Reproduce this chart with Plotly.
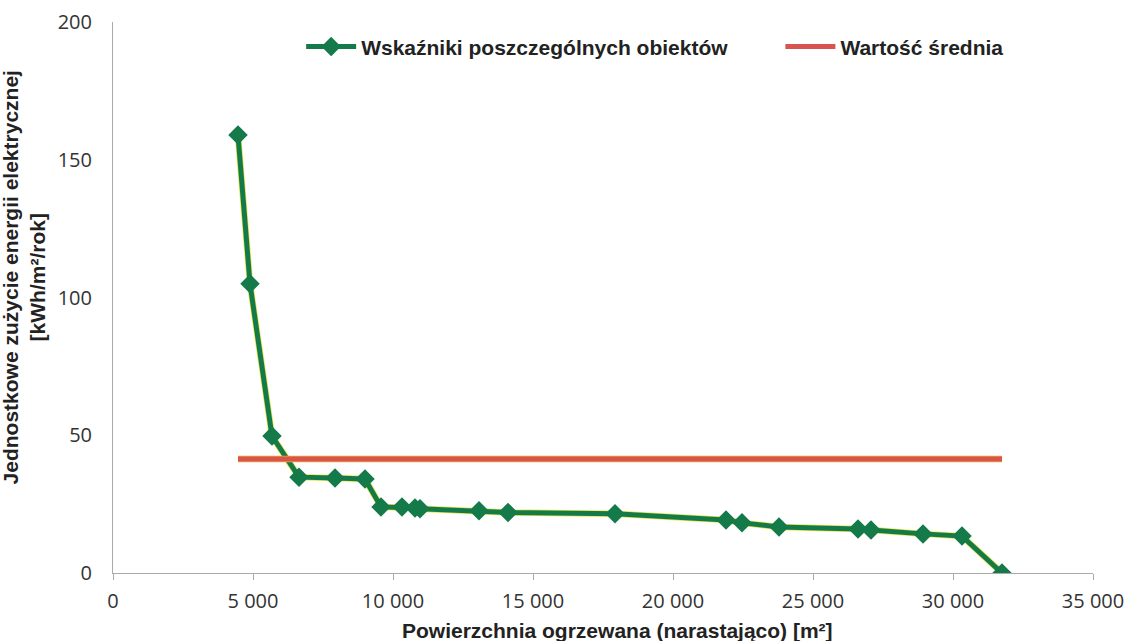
import plotly.graph_objects as go

# Cumulative heated area [m2]
area = [4464, 4893, 5679, 6643, 7929, 9000, 9571, 10321, 10786, 10964,
        13071, 14107, 17929, 21893, 22464, 23786, 26607, 27071, 28929,
        30321, 31750]
# Unit electricity use [kWh/m2/year]
usage = [159, 105, 49.7, 34.8, 34.5, 34.1, 24.0, 24.0, 23.6, 23.3,
         22.6, 22.0, 21.5, 19.2, 18.2, 16.7, 16.0, 15.6, 14.2,
         13.4, 0.0]
mean_value = 41.4
mean_x = [area[0], area[-1]]
mean_y = [mean_value, mean_value]

x_ticks = [0, 5000, 10000, 15000, 20000, 25000, 30000, 35000]
x_tick_labels = ["0", "5 000", "10 000", "15 000", "20 000", "25 000", "30 000", "35 000"]
y_ticks = [0, 50, 100, 150, 200]

x_title = "<b>Powierzchnia ogrzewana (narastająco) [m²]</b>"
y_title = "<b>Jednostkowe zużycie energii elektrycznej<br>[kWh/m²/rok]</b>"

fig = go.Figure()

# yellowish underlay (scanned shadow effect)
fig.add_trace(go.Scatter(x=area, y=usage, mode="lines",
                         line=dict(color="#e8e84a", width=6.5),
                         showlegend=False, hoverinfo="skip"))
fig.add_trace(go.Scatter(x=area, y=usage, mode="lines+markers",
                         name="<b>Wskaźniki poszczególnych obiektów</b>",
                         line=dict(color="#157a4a", width=5),
                         marker=dict(symbol="diamond", size=15, color="#157a4a"),
                         legend="legend"))
fig.add_trace(go.Scatter(x=mean_x, y=mean_y, mode="lines",
                         line=dict(color="#f0b030", width=6.5),
                         showlegend=False, hoverinfo="skip"))
fig.add_trace(go.Scatter(x=mean_x, y=mean_y, mode="lines",
                         name="<b>Wartość średnia</b>",
                         line=dict(color="#d9534f", width=5),
                         legend="legend2"))

legend_common = dict(orientation="h", yanchor="middle", bgcolor="rgba(0,0,0,0)",
                     font=dict(size=21, color="#222", family="Liberation Sans, Arial, sans-serif"),
                     itemwidth=50)
fig.update_layout(
    width=1131, height=641,
    margin=dict(l=113, r=38, t=22, b=68),
    paper_bgcolor="white", plot_bgcolor="white",
    font=dict(family="Liberation Sans, Arial, sans-serif", color="#222"),
    legend=dict(x=0.192, y=0.955, xanchor="left", **legend_common),
    legend2=dict(x=0.681, y=0.955, xanchor="left", **legend_common),
    showlegend=True,
    annotations=[
        dict(text=x_title, xref="paper", yref="paper", x=0.515, y=-0.104,
             xanchor="center", yanchor="middle", showarrow=False,
             font=dict(size=21, color="#222")),
        dict(text=y_title, xref="paper", yref="paper", x=-0.0905, y=0.537,
             xanchor="center", yanchor="middle", showarrow=False, textangle=-90,
             font=dict(size=21, color="#222")),
    ],
)
fig.update_xaxes(range=[0, 35000], tickvals=x_ticks, ticktext=x_tick_labels,
                 showgrid=False, zeroline=False, showline=True, linecolor="#aaa",
                 linewidth=1, ticks="outside", ticklen=6, tickcolor="#aaa",
                 automargin=False, ticklabelstandoff=4,
                 tickfont=dict(size=20, color="#333", family="Open Sans, sans-serif"))
fig.update_yaxes(range=[0, 200], tickvals=y_ticks,
                 showgrid=False, zeroline=False, showline=True, linecolor="#aaa",
                 linewidth=1, ticks="", ticklabelstandoff=16, automargin=False,
                 tickfont=dict(size=20, color="#333", family="Open Sans, sans-serif"))

fig.write_html("out.html", config={"displayModeBar": False},
               post_script="document.body.style.margin='0px';")
